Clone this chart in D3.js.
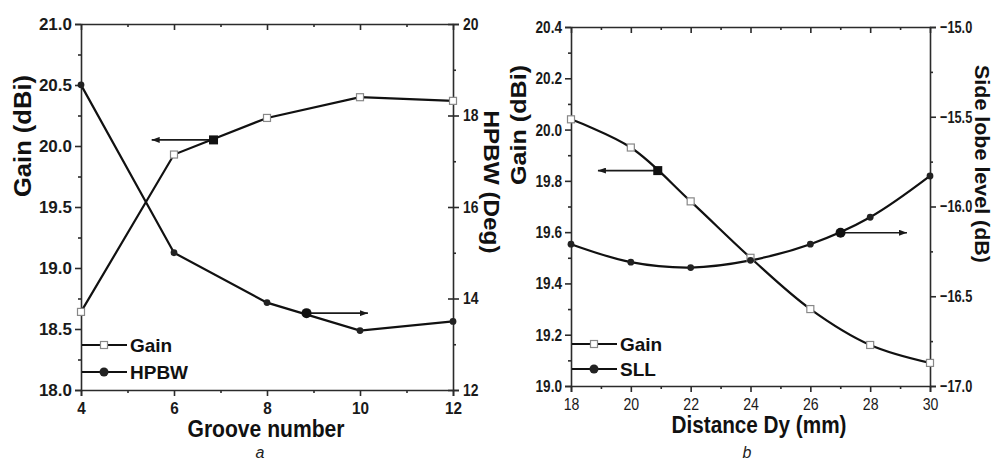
<!DOCTYPE html>
<html>
<head>
<meta charset="utf-8">
<script src="https://cdn.jsdelivr.net/npm/d3@7"></script>
<style>
  body { margin: 0; background: #fff; }
  svg { display: block; font-family: "Liberation Sans", Arial, sans-serif; }
  .axis path, .axis line { stroke: #2b2b2b; stroke-width: 1.6; }
  .axis text { fill: #1a1a1a; }
</style>
</head>
<body>
<svg id="chart" width="996" height="463"></svg>
<script>
(function () {
    'use strict';

    // panel a -- groove number
    var grooveNum = [4, 6, 8, 10, 12],
        gainA = [18.64, 19.93, 20.23, 20.40, 20.37],
        hpbw = [18.67, 15.0, 13.91, 13.30, 13.50],
        grooveTicks = [4, 6, 8, 10, 12],
        gainATicks = [18.0, 18.5, 19.0, 19.5, 20.0, 20.5, 21.0],
        hpbwTicks = [12, 14, 16, 18, 20];

    // panel b -- distance Dy
    var distDy = [18, 20, 22, 24, 26, 28, 30],
        gainB = [20.04, 19.93, 19.72, 19.50, 19.30, 19.16, 19.09],
        sll = [-16.21, -16.31, -16.34, -16.30, -16.21, -16.06, -15.83],
        dyTicks = [18, 20, 22, 24, 26, 28, 30],
        gainBTicks = [19.0, 19.2, 19.4, 19.6, 19.8, 20.0, 20.2, 20.4],
        sllTicks = [-17.0, -16.5, -16.0, -15.5, -15.0];

    // arrow annotations: [x, y, tipX] in data units
    var arrowGainA = [6.85, 20.05, 5.52],
        arrowHpbw = [8.85, 13.68, 10.17],
        arrowGainB = [20.9, 19.84, 18.9],
        arrowSll = [27.01, -16.146, 29.23];

    var svg = d3.select('#chart');

    svg.append('defs').append('marker')
        .attr('id', 'head')
        .attr('markerUnits', 'userSpaceOnUse')
        .attr('viewBox', '0 0 8 6')
        .attr('refX', 8).attr('refY', 3)
        .attr('markerWidth', 8).attr('markerHeight', 6)
        .attr('orient', 'auto')
        .append('path')
        .attr('d', 'M0,0L8,3L0,6Z')
        .style('fill', '#1a1a1a');

    function minors(ticks, n) {
        var out = [];
        for (var i = 0; i < ticks.length - 1; i++) {
            var step = (ticks[i + 1] - ticks[i]) / n;
            for (var k = 1; k < n; k++) out.push(ticks[i] + step * k);
        }
        return out;
    }

    function fixed(d) { return d3.format('.1f')(d); }

    // squeeze tick labels horizontally around their anchor (source font is narrow)
    function condense(texts, sx, bold) {
        texts.each(function () {
            var t = d3.select(this),
                tx = +t.attr('x') || 0,
                ty = +t.attr('y') || 0;
            t.attr('x', 0).attr('y', 0)
                .attr('transform', 'translate(' + tx + ',' + ty + ') scale(' + sx + ',1)')
                .style('font-size', '17px')
                .style('font-weight', bold ? 'bold' : 'normal');
        });
    }

    function drawPanel(p) {
        var g = svg.append('g');
        var x = d3.scaleLinear().domain(d3.extent(p.xTicks)).range([p.left, p.right]),
            yl = d3.scaleLinear().domain(d3.extent(p.ylTicks)).range([p.bottom, p.top]),
            yr = d3.scaleLinear().domain(d3.extent(p.yrTicks)).range([p.bottom, p.top]);

        // bottom axis
        g.append('g').attr('class', 'axis')
            .attr('transform', 'translate(0,' + p.bottom + ')')
            .call(d3.axisBottom(x).tickValues(p.xTicks).tickSize(6).tickPadding(6)
                .tickFormat(d3.format('d')))
            .selectAll('text')
            .call(condense, p.sq[0], p.xBold);
        g.append('g').attr('class', 'axis')
            .attr('transform', 'translate(0,' + p.bottom + ')')
            .call(d3.axisBottom(x).tickValues(minors(p.xTicks, 2)).tickSize(3).tickFormat(''))
            .select('.domain').remove();

        // top axis, ticks inward
        g.append('g').attr('class', 'axis')
            .attr('transform', 'translate(0,' + p.top + ')')
            .call(d3.axisBottom(x).tickValues(p.xTicks).tickSizeInner(6).tickSizeOuter(0).tickFormat(''));
        g.append('g').attr('class', 'axis')
            .attr('transform', 'translate(0,' + p.top + ')')
            .call(d3.axisBottom(x).tickValues(minors(p.xTicks, 2)).tickSize(3).tickFormat(''))
            .select('.domain').remove();

        // left axis
        g.append('g').attr('class', 'axis')
            .attr('transform', 'translate(' + p.left + ',0)')
            .call(d3.axisLeft(yl).tickValues(p.ylTicks).tickSize(6).tickPadding(3).tickFormat(fixed))
            .selectAll('text')
            .call(condense, p.sq[1], true);
        g.append('g').attr('class', 'axis')
            .attr('transform', 'translate(' + p.left + ',0)')
            .call(d3.axisLeft(yl).tickValues(minors(p.ylTicks, 2)).tickSize(3).tickFormat(''))
            .select('.domain').remove();

        // right axis
        var ra = g.append('g').attr('class', 'axis')
            .attr('transform', 'translate(' + p.right + ',0)')
            .call(d3.axisRight(yr).tickValues(p.yrTicks).tickSize(6).tickPadding(4)
                .tickFormat(p.yrFormat));
        ra.selectAll('text').call(condense, p.sq[2], true);
        if (p.crossTicks) ra.selectAll('.tick line').attr('x1', -5);
        g.append('g').attr('class', 'axis')
            .attr('transform', 'translate(' + p.right + ',0)')
            .call(d3.axisRight(yr).tickValues(minors(p.yrTicks, 2)).tickSize(3).tickFormat(''))
            .select('.domain').remove();

        // series
        var lineL = d3.line().curve(p.curve)
            .x(function (d, i) { return x(p.xs[i]); })
            .y(function (d) { return yl(d); });
        var lineR = d3.line().curve(p.curve)
            .x(function (d, i) { return x(p.xs[i]); })
            .y(function (d) { return yr(d); });

        g.append('path').datum(p.left_vals).attr('d', lineL)
            .style('fill', 'none').style('stroke', '#111').style('stroke-width', 2.2);
        g.append('path').datum(p.right_vals).attr('d', lineR)
            .style('fill', 'none').style('stroke', '#111').style('stroke-width', 2.2);

        g.selectAll('.sq').data(p.left_vals).enter().append('rect')
            .attr('x', function (d, i) { return x(p.xs[i]) - 3.5; })
            .attr('y', function (d) { return yl(d) - 3.5; })
            .attr('width', 7).attr('height', 7)
            .style('fill', '#fff').style('stroke', '#888').style('stroke-width', 1.2);
        g.selectAll('.ci').data(p.right_vals).enter().append('circle')
            .attr('cx', function (d, i) { return x(p.xs[i]); })
            .attr('cy', function (d) { return yr(d); })
            .attr('r', 3.4)
            .style('fill', '#222');

        // arrows
        var al = p.arrowL, ar = p.arrowR;
        g.append('line')
            .attr('x1', x(al[0])).attr('y1', yl(al[1]))
            .attr('x2', x(al[2])).attr('y2', yl(al[1]))
            .attr('marker-end', 'url(#head)')
            .style('stroke', '#1a1a1a').style('stroke-width', 1.6);
        g.append('rect')
            .attr('x', x(al[0]) - 4.5).attr('y', yl(al[1]) - 4.5)
            .attr('width', 9).attr('height', 9).style('fill', '#111');
        g.append('line')
            .attr('x1', x(ar[0])).attr('y1', yr(ar[1]))
            .attr('x2', x(ar[2])).attr('y2', yr(ar[1]))
            .attr('marker-end', 'url(#head)')
            .style('stroke', '#1a1a1a').style('stroke-width', 1.6);
        g.append('circle')
            .attr('cx', x(ar[0])).attr('cy', yr(ar[1])).attr('r', 5)
            .style('fill', '#111');

        // legend
        var lx0 = p.left + 1, lx1 = p.left + 46, lm = p.left + 23;
        p.legend.forEach(function (name, i) {
            var ly = p.legendY[i];
            g.append('line').attr('x1', lx0).attr('x2', lx1).attr('y1', ly).attr('y2', ly)
                .style('stroke', '#111').style('stroke-width', 2.2);
            if (i === 0) {
                g.append('rect').attr('x', lm - 3.5).attr('y', ly - 3.5)
                    .attr('width', 7).attr('height', 7)
                    .style('fill', '#fff').style('stroke', '#888').style('stroke-width', 1.2);
            } else {
                g.append('circle').attr('cx', lm).attr('cy', ly).attr('r', 4.5).style('fill', '#222');
            }
            g.append('text').attr('x', lx1 + 3).attr('y', ly)
                .attr('dy', '0.36em')
                .style('font-size', '19px').style('font-weight', 'bold').style('fill', '#111')
                .text(name);
        });

        // titles
        function title(txt, tx, ty, rot, len, size) {
            g.append('text')
                .attr('transform', 'translate(' + tx + ',' + ty + ') rotate(' + rot + ')')
                .attr('text-anchor', 'middle')
                .attr('dominant-baseline', rot ? 'central' : 'auto')
                .attr('textLength', len).attr('lengthAdjust', 'spacingAndGlyphs')
                .style('font-size', size + 'px').style('font-weight', 'bold').style('fill', '#111')
                .text(txt);
        }
        p.titles.forEach(function (t) { title(t[0], t[1], t[2], t[3], t[4], t[5]); });

        g.append('text').attr('x', p.tag[1]).attr('y', p.tag[2])
            .attr('text-anchor', 'middle')
            .style('font-size', '16px').style('font-style', 'italic').style('fill', '#222')
            .text(p.tag[0]);
    }

    drawPanel({
        left: 81, right: 453, top: 24, bottom: 390,
        xTicks: grooveTicks, ylTicks: gainATicks, yrTicks: hpbwTicks,
        yrFormat: d3.format('d'), xBold: true, crossTicks: true,
        sq: [0.9, 1.0, 0.82],
        curve: d3.curveLinear,
        xs: grooveNum, left_vals: gainA, right_vals: hpbw,
        arrowL: arrowGainA, arrowR: arrowHpbw,
        legend: ['Gain', 'HPBW'], legendY: [345, 372],
        titles: [
            ['Gain (dBi)', 23, 136, -90, 122, 23],
            ['HPBW (Deg)', 491, 182, 90, 143, 22],
            ['Groove number', 266, 437, 0, 157, 23]
        ],
        tag: ['a', 260, 458]
    });

    drawPanel({
        left: 571, right: 930, top: 27, bottom: 386,
        xTicks: dyTicks, ylTicks: gainBTicks, yrTicks: sllTicks,
        yrFormat: fixed, xBold: false, crossTicks: false,
        sq: [0.83, 0.8, 0.75],
        curve: d3.curveCatmullRom,
        xs: distDy, left_vals: gainB, right_vals: sll,
        arrowL: arrowGainB, arrowR: arrowSll,
        legend: ['Gain', 'SLL'], legendY: [344, 369],
        titles: [
            ['Gain (dBi)', 518, 125, -90, 120, 22],
            ['Side lobe level (dB)', 982, 164, 90, 198, 20],
            ['Distance Dy (mm)', 759, 433, 0, 175, 24]
        ],
        tag: ['b', 747, 458]
    });
})();
</script>
</body>
</html>
